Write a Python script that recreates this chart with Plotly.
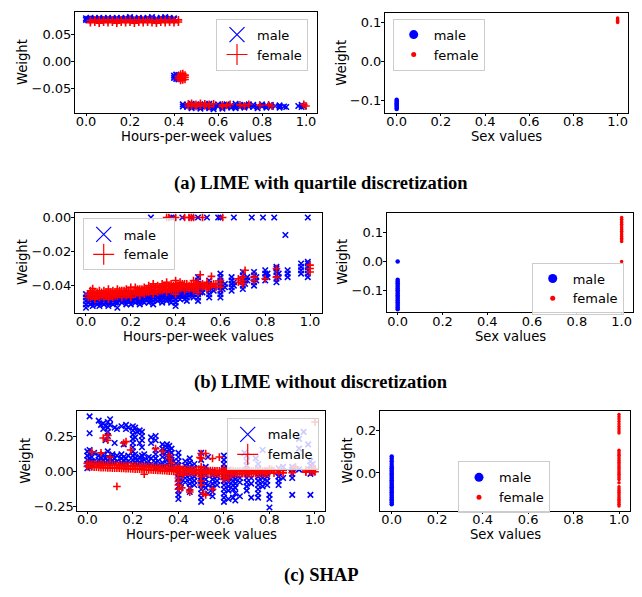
import plotly.graph_objects as go

# ---------------- tick labels ----------------
x_ticks = [0.0, 0.2, 0.4, 0.6, 0.8, 1.0]
lq_hours_yticks = [-0.05, 0.00, 0.05]
lq_sex_yticks = [-0.1, 0.0, 0.1]
nd_hours_yticks = [-0.04, -0.02, 0.00]
nd_sex_yticks = [-0.1, 0.0, 0.1]
shap_hours_yticks = [-0.25, 0.00, 0.25]
shap_sex_yticks = [0.0, 0.2]

series_names = ["male", "female"]
captions = ["(a) LIME with quartile discretization", "(b) LIME without discretization", "(c) SHAP"]

# ---------------- data: [feature value, [weights read at that value]] ----------------
# (a) LIME with quartile discretization, Hours-per-week
lq_hours_male = [
    [0.00, [0.080, 0.077]], [0.01, [0.079, 0.076]], [0.02, [0.081, 0.078]],
    [0.04, [0.080, 0.077]], [0.06, [0.081, 0.078]], [0.08, [0.080, 0.077]],
    [0.10, [0.081, 0.078]], [0.12, [0.080, 0.077]], [0.14, [0.081, 0.079]],
    [0.16, [0.080, 0.077]], [0.18, [0.081, 0.078]], [0.20, [0.082, 0.079]],
    [0.22, [0.080, 0.077]], [0.24, [0.081, 0.078]], [0.26, [0.080, 0.077]],
    [0.28, [0.081, 0.079]], [0.30, [0.082, 0.078]], [0.32, [0.080, 0.077]],
    [0.34, [0.081, 0.078]], [0.36, [0.082, 0.079]], [0.38, [0.081, 0.077]],
    [0.40, [0.080, 0.078]],
    [0.40, [-0.026, -0.030]], [0.41, [-0.024, -0.028, -0.032]], [0.42, [-0.025, -0.029, -0.033]],
    [0.44, [-0.079, -0.083]], [0.46, [-0.080, -0.084]], [0.48, [-0.078, -0.082, -0.086]],
    [0.50, [-0.080, -0.084]], [0.52, [-0.079, -0.083, -0.087]], [0.54, [-0.080, -0.084]],
    [0.56, [-0.078, -0.082, -0.086]], [0.58, [-0.081, -0.085, -0.088]], [0.60, [-0.079, -0.083]],
    [0.62, [-0.080, -0.084, -0.087]], [0.64, [-0.079, -0.083]], [0.66, [-0.081, -0.085]],
    [0.68, [-0.078, -0.082, -0.086]], [0.70, [-0.080, -0.084]], [0.72, [-0.081, -0.085]],
    [0.74, [-0.079, -0.083]], [0.76, [-0.080, -0.084]], [0.78, [-0.082, -0.086]],
    [0.80, [-0.079, -0.083]], [0.82, [-0.081, -0.085]], [0.84, [-0.080, -0.084]],
    [0.86, [-0.082]], [0.88, [-0.081, -0.085]], [0.90, [-0.083]], [0.91, [-0.084]],
    [0.965, [-0.082]], [0.98, [-0.080, -0.084]], [0.99, [-0.083]],
]
lq_hours_female = [
    [0.02, [0.076, 0.072]], [0.04, [0.077, 0.073]], [0.06, [0.076, 0.071]],
    [0.08, [0.077, 0.073]], [0.10, [0.076, 0.072]], [0.12, [0.077, 0.073]],
    [0.14, [0.075, 0.071]], [0.16, [0.077, 0.073]], [0.18, [0.076, 0.072]],
    [0.20, [0.077, 0.073]], [0.22, [0.076, 0.071]], [0.24, [0.077, 0.073]],
    [0.26, [0.076, 0.072]], [0.28, [0.077, 0.073]], [0.30, [0.076, 0.072]],
    [0.32, [0.075, 0.071]], [0.34, [0.077, 0.073]], [0.36, [0.076, 0.072]],
    [0.38, [0.077, 0.073]], [0.40, [0.076, 0.072]], [0.42, [0.077, 0.073]],
    [0.42, [-0.027, -0.031]], [0.43, [-0.023, -0.027, -0.031, -0.035]],
    [0.44, [-0.022, -0.026, -0.030, -0.034]], [0.45, [-0.025, -0.029, -0.033]],
    [0.465, [-0.078, -0.082]], [0.48, [-0.077, -0.081]], [0.50, [-0.079, -0.083]],
    [0.52, [-0.077, -0.081]], [0.54, [-0.078, -0.082]], [0.56, [-0.079, -0.083]],
    [0.58, [-0.078]], [0.62, [-0.080, -0.083]], [0.64, [-0.081]], [0.655, [-0.079]],
    [0.70, [-0.080]], [0.72, [-0.082]], [0.74, [-0.079]], [0.79, [-0.081]],
    [0.83, [-0.080]], [0.845, [-0.082]], [0.99, [-0.079]], [1.00, [-0.082]],
]
# (a) LIME with quartile discretization, Sex
lq_sex_male = [
    [0.0, [-0.098, -0.101, -0.104, -0.107, -0.110, -0.113, -0.116, -0.119, -0.122]],
]
lq_sex_female = [
    [1.0, [0.100, 0.103, 0.106, 0.109, 0.112]],
]

# (b) LIME without discretization, Hours-per-week
nd_hours_male = [
    [0.00, [-0.053, -0.051, -0.049, -0.047, -0.045]], [0.01, [-0.050, -0.048, -0.046]],
    [0.02, [-0.051, -0.049, -0.047, -0.045]], [0.03, [-0.052, -0.050, -0.048]],
    [0.04, [-0.050, -0.048, -0.046]], [0.05, [-0.051, -0.049, -0.047]],
    [0.06, [-0.052, -0.050, -0.048, -0.046]], [0.07, [-0.050, -0.048, -0.046]],
    [0.08, [-0.051, -0.049, -0.047]], [0.09, [-0.050, -0.048, -0.046]],
    [0.10, [-0.052, -0.050, -0.048, -0.046]], [0.11, [-0.050, -0.048, -0.046]],
    [0.12, [-0.051, -0.049, -0.047]], [0.13, [-0.050, -0.048, -0.046]],
    [0.14, [-0.053, -0.050, -0.048, -0.046]], [0.15, [-0.049, -0.047, -0.045]],
    [0.16, [-0.050, -0.048, -0.046]], [0.17, [-0.049, -0.047, -0.045]],
    [0.18, [-0.051, -0.049, -0.047]], [0.19, [-0.049, -0.047, -0.045]],
    [0.20, [-0.051, -0.049, -0.047, -0.045]], [0.21, [-0.049, -0.047, -0.045]],
    [0.22, [-0.050, -0.048, -0.046]], [0.23, [-0.049, -0.047, -0.045]],
    [0.24, [-0.051, -0.049, -0.047, -0.045]], [0.25, [-0.048, -0.046, -0.044]],
    [0.26, [-0.050, -0.048, -0.046]], [0.27, [-0.048, -0.046, -0.044]],
    [0.28, [-0.050, -0.048, -0.046]], [0.29, [-0.048, -0.046, -0.044]],
    [0.30, [-0.051, -0.049, -0.047, -0.045, -0.043]], [0.31, [-0.048, -0.046, -0.044]],
    [0.32, [-0.049, -0.047, -0.045]], [0.33, [-0.048, -0.046, -0.044]],
    [0.34, [-0.050, -0.048, -0.046, -0.044]], [0.35, [-0.047, -0.045, -0.043]],
    [0.36, [-0.049, -0.047, -0.045]], [0.37, [-0.048, -0.046, -0.044]],
    [0.38, [-0.050, -0.048, -0.046, -0.044]], [0.39, [-0.047, -0.045, -0.043]],
    [0.40, [-0.052, -0.050, -0.048, -0.046, -0.044, -0.042, -0.040]],
    [0.41, [-0.047, -0.045, -0.043]], [0.42, [-0.048, -0.046, -0.044]],
    [0.43, [-0.046, -0.044, -0.042]], [0.44, [-0.048, -0.046, -0.044, -0.042]],
    [0.45, [-0.049, -0.047, -0.045, -0.043, -0.041]], [0.46, [-0.046, -0.044, -0.042]],
    [0.47, [-0.045, -0.043]], [0.48, [-0.047, -0.045, -0.043, -0.041]],
    [0.50, [-0.049, -0.047, -0.045, -0.043, -0.041, -0.039, -0.037, -0.035]],
    [0.51, [-0.044, -0.042]], [0.52, [-0.044, -0.042, -0.040]],
    [0.55, [-0.047, -0.045, -0.043, -0.041, -0.039, -0.037]], [0.56, [-0.042, -0.040]],
    [0.57, [-0.043, -0.041]],
    [0.60, [-0.047, -0.045, -0.043, -0.041, -0.039, -0.037, -0.035, -0.033]],
    [0.61, [-0.042, -0.040]], [0.62, [-0.041, -0.039]],
    [0.65, [-0.043, -0.041, -0.039, -0.037, -0.035]], [0.66, [-0.040, -0.038]],
    [0.70, [-0.042, -0.040, -0.038, -0.036, -0.034, -0.032]], [0.71, [-0.039, -0.037]],
    [0.72, [-0.037, -0.035]],
    [0.75, [-0.040, -0.038, -0.036, -0.034, -0.032]], [0.76, [-0.037, -0.035]],
    [0.80, [-0.037, -0.035, -0.033, -0.031]], [0.81, [-0.035, -0.033]],
    [0.85, [-0.038, -0.036, -0.034, -0.032, -0.030, -0.029]], [0.86, [-0.035, -0.033]],
    [0.90, [-0.035, -0.033, -0.031]], [0.96, [-0.033, -0.031, -0.029, -0.027]],
    [0.99, [-0.035, -0.033, -0.031, -0.029, -0.027, -0.026]],
    [0.89, [-0.0103]],
    [0.29, [0.0]], [0.38, [0.0]], [0.39, [0.0]], [0.43, [0.0]], [0.47, [0.0]], [0.50, [0.0]],
    [0.54, [0.0]], [0.59, [0.0]], [0.60, [0.0]], [0.66, [0.0]], [0.74, [0.0]], [0.79, [0.0]],
    [0.84, [0.0]], [0.99, [0.0]],
]
nd_hours_female = [
    [0.01, [-0.047, -0.045]], [0.02, [-0.047, -0.045, -0.043]], [0.03, [-0.046, -0.044, -0.0418]],
    [0.04, [-0.048, -0.046, -0.044]], [0.05, [-0.046, -0.044]], [0.06, [-0.047, -0.045, -0.043]],
    [0.07, [-0.046, -0.044]], [0.08, [-0.047, -0.045, -0.043]], [0.09, [-0.046, -0.044]],
    [0.10, [-0.048, -0.046, -0.044, -0.042]], [0.11, [-0.046, -0.044]],
    [0.12, [-0.047, -0.045, -0.043]], [0.13, [-0.046, -0.044]], [0.14, [-0.046, -0.044, -0.042]],
    [0.15, [-0.045, -0.043]], [0.16, [-0.047, -0.045, -0.043]], [0.17, [-0.045, -0.043]],
    [0.18, [-0.046, -0.044, -0.042]], [0.19, [-0.045, -0.043]],
    [0.20, [-0.047, -0.045, -0.043, -0.041]], [0.21, [-0.045, -0.043]],
    [0.22, [-0.045, -0.043, -0.041]], [0.23, [-0.044, -0.042]], [0.24, [-0.046, -0.044, -0.042]],
    [0.25, [-0.044, -0.042]], [0.26, [-0.045, -0.043, -0.041]], [0.27, [-0.044, -0.042]],
    [0.28, [-0.044, -0.042, -0.040]], [0.29, [-0.043, -0.041]],
    [0.30, [-0.045, -0.043, -0.041, -0.039]], [0.31, [-0.043, -0.041]],
    [0.32, [-0.044, -0.042, -0.040]], [0.33, [-0.043, -0.041]], [0.34, [-0.043, -0.041, -0.039]],
    [0.35, [-0.042, -0.040]], [0.36, [-0.044, -0.042, -0.040, -0.038]], [0.37, [-0.042, -0.040]],
    [0.38, [-0.043, -0.041, -0.039]], [0.39, [-0.042, -0.040]],
    [0.40, [-0.045, -0.043, -0.041, -0.039, -0.037]], [0.41, [-0.042, -0.040]],
    [0.42, [-0.042, -0.040, -0.038]], [0.43, [-0.041, -0.039]], [0.44, [-0.043, -0.041, -0.039]],
    [0.45, [-0.041, -0.039]], [0.46, [-0.042, -0.040]], [0.47, [-0.041, -0.039]],
    [0.48, [-0.043, -0.041, -0.039, -0.037]], [0.49, [-0.041, -0.039]],
    [0.50, [-0.044, -0.042, -0.040, -0.038]], [0.51, [-0.0336]], [0.52, [-0.041, -0.039]],
    [0.53, [-0.040]], [0.54, [-0.042, -0.040, -0.038]], [0.55, [-0.041]],
    [0.56, [-0.040, -0.0346]], [0.57, [-0.039]], [0.58, [-0.041, -0.039]],
    [0.60, [-0.041, -0.039, -0.037]], [0.68, [-0.038, -0.036]],
    [0.70, [-0.039, -0.037, -0.035]], [0.71, [-0.031]], [0.75, [-0.037, -0.035]],
    [0.80, [-0.036]], [0.85, [-0.035, -0.030]], [1.00, [-0.032, -0.030, -0.028]],
    [0.36, [0.0]], [0.37, [0.0]], [0.40, [0.0]], [0.44, [0.0]], [0.46, [0.0]], [0.47, [0.0]],
    [0.48, [0.0]], [0.52, [0.0]], [0.61, [0.0]],
]
# (b) LIME without discretization, Sex
nd_sex_male = [
    [0.0, [-0.166, -0.160, -0.154, -0.148, -0.142, -0.136, -0.130, -0.124, -0.118, -0.112,
           -0.106, -0.100, -0.094, -0.088, -0.082, -0.076, -0.070, -0.064, 0.000]],
]
nd_sex_female = [
    [1.0, [0.069, 0.075, 0.081, 0.087, 0.093, 0.099, 0.105, 0.111, 0.117, 0.123, 0.129,
           0.135, 0.141, 0.147, 0.153, 0.000]],
]

# (c) SHAP, Hours-per-week
shap_hours_male = [
    [0.00, [0.02, 0.05, 0.08, 0.11, 0.14]], [0.01, [0.03, 0.06, 0.09, 0.12, 0.15, 0.27, 0.39]],
    [0.02, [0.04, 0.07, 0.10]], [0.03, [0.04, 0.07, 0.13]], [0.05, [0.05, 0.08, 0.11, 0.36]],
    [0.06, [0.06, 0.09, 0.33]], [0.07, [0.05, 0.08, 0.12, 0.30, 0.34]],
    [0.08, [0.06, 0.09, 0.22, 0.32]], [0.09, [0.07, 0.10, 0.14, 0.25, 0.28, 0.31, 0.35]],
    [0.10, [0.06, 0.09, 0.33, 0.37]], [0.11, [0.07, 0.10, 0.12]],
    [0.12, [0.06, 0.09, 0.20, 0.31]], [0.13, [0.07, 0.11, 0.30]],
    [0.15, [0.06, 0.09, 0.12, 0.32]], [0.16, [0.07, 0.10, 0.19]],
    [0.17, [0.06, 0.09, 0.30, 0.33]], [0.18, [0.07, 0.11, 0.31]],
    [0.20, [0.05, 0.08, 0.11, 0.14, 0.17, 0.20, 0.23, 0.26, 0.29, 0.32]],
    [0.21, [0.06, 0.09, 0.12, 0.24, 0.31]], [0.22, [0.05, 0.08, 0.28]],
    [0.23, [0.06, 0.10, 0.20, 0.29]], [0.24, [0.07, 0.11, 0.17, 0.22, 0.25, 0.28]],
    [0.25, [0.05, 0.08, 0.12]], [0.27, [0.04, 0.07, 0.10]], [0.28, [0.05, 0.09, 0.20, 0.24]],
    [0.30, [0.03, 0.06, 0.09, 0.12, 0.15, 0.22, 0.25]], [0.31, [0.04, 0.07]],
    [0.33, [0.03, 0.06, 0.10, 0.13, 0.16, 0.19]], [0.35, [0.02, 0.05, 0.08, 0.11, 0.14, 0.17, 0.19]],
    [0.36, [0.03, 0.06, 0.09, 0.12, 0.15, 0.18]], [0.37, [0.02, 0.05, 0.08, 0.10, 0.13, 0.16]],
    [0.38, [0.01, 0.04, 0.07]],
    [0.40, [-0.20, -0.17, -0.14, -0.11, -0.08, -0.05, -0.02, 0.01, 0.04, 0.07, 0.10, 0.13]],
    [0.41, [-0.12, -0.09, -0.06, -0.03]], [0.43, [-0.08, -0.05, -0.02, 0.01, 0.04, 0.07]],
    [0.45, [-0.15, -0.12, -0.09, -0.06, -0.03, 0.00, 0.03, 0.06, 0.09]],
    [0.47, [-0.10, -0.07, -0.04, -0.01, 0.02, 0.05]],
    [0.50, [-0.22, -0.19, -0.16, -0.13, -0.10, -0.07, -0.04, -0.01, 0.02, 0.08, 0.13]],
    [0.52, [-0.12, -0.09, -0.06, -0.03, 0.00, 0.03]], [0.53, [-0.16, -0.10, 0.10]],
    [0.55, [-0.18, -0.15, -0.12, -0.09, -0.06, -0.03, 0.00]], [0.57, [-0.10, -0.07, -0.04, -0.01]],
    [0.60, [-0.22, -0.19, -0.16, -0.13, -0.10, -0.07, -0.04, -0.01, 0.02, 0.05, 0.08, 0.11]],
    [0.62, [-0.20, -0.14, -0.11, -0.08, -0.05, -0.02, 0.01]],
    [0.64, [-0.19, -0.13, -0.10, -0.07, -0.04, -0.01]],
    [0.65, [-0.21, -0.16, -0.12, -0.09, -0.06, -0.03, 0.00]], [0.67, [-0.18, -0.08, -0.05]],
    [0.69, [0.13]],
    [0.70, [-0.14, -0.11, -0.08, -0.05, -0.02, 0.01, 0.04, 0.07, 0.11]], [0.72, [-0.19, -0.09, -0.05]],
    [0.74, [0.09]],
    [0.75, [-0.19, -0.16, -0.13, -0.10, -0.07, -0.04, -0.01, 0.02, 0.05]],
    [0.77, [-0.11, -0.08, -0.05, -0.02, 0.00, 0.15]], [0.79, [-0.10, -0.07, -0.04, -0.01]],
    [0.80, [-0.26, -0.20, -0.17]], [0.84, [-0.10, -0.07, -0.04, -0.01, 0.02]],
    [0.86, [-0.05, 0.03]], [0.90, [-0.17, -0.05, -0.02, 0.01, 0.03]],
    [0.93, [0.01, 0.16, 0.23]], [0.95, [0.28]], [0.97, [0.19]],
    [0.98, [-0.17, -0.02, 0.01, 0.04, 0.07]], [0.99, [-0.01, 0.02, 0.05]],
]
shap_hours_female = [
    [0.00, [0.055, 0.032]], [0.01, [0.053, 0.031]], [0.02, [0.050, 0.029, 0.137]],
    [0.03, [0.049, 0.028]], [0.04, [0.048, 0.027]], [0.05, [0.047, 0.026]],
    [0.06, [0.046, 0.025, 0.13]], [0.07, [0.046, 0.024, 0.236]], [0.08, [0.045, 0.024]],
    [0.09, [0.044, 0.023, 0.255, 0.22]], [0.10, [0.044, 0.022, 0.10]], [0.11, [0.043, 0.021]],
    [0.12, [0.042, 0.021]], [0.13, [0.041, 0.020, -0.11]], [0.14, [0.040, 0.020]],
    [0.15, [0.040, 0.019]], [0.16, [0.039, 0.018, 0.20]], [0.17, [0.038, 0.017, 0.21]],
    [0.18, [0.038, 0.017]], [0.19, [0.037, 0.016, 0.15]], [0.20, [0.036, 0.015]],
    [0.21, [0.035, 0.014]], [0.22, [0.034, 0.014]], [0.23, [0.033, 0.013]],
    [0.24, [0.033, 0.012]], [0.25, [0.032, 0.011, -0.023]], [0.26, [0.031, 0.010]],
    [0.27, [0.030, 0.009]], [0.28, [0.029, 0.008]], [0.29, [0.028, 0.007]],
    [0.30, [0.027, 0.006, 0.16]], [0.31, [0.026, 0.005]], [0.32, [0.025, 0.004]],
    [0.33, [0.024, 0.003, 0.14]], [0.34, [0.023, 0.002]], [0.35, [0.022, 0.001]],
    [0.36, [0.021, 0.000, 0.11, 0.09]], [0.37, [0.020, -0.001, 0.06]], [0.38, [0.019, -0.002]],
    [0.39, [0.018, -0.003]],
    [0.40, [0.030, 0.015, -0.004, -0.025, -0.050, -0.075, -0.100, -0.130]],
    [0.41, [0.014, -0.005]], [0.415, [-0.12]], [0.42, [0.013, -0.006, -0.030]],
    [0.43, [0.012, -0.007]], [0.44, [0.011, -0.008]], [0.45, [0.010, -0.009, -0.135, -0.15]],
    [0.46, [0.009, -0.010]], [0.47, [0.008, -0.011]], [0.48, [0.007, -0.012]],
    [0.49, [0.006, -0.013]], [0.495, [0.097]],
    [0.50, [0.030, 0.005, -0.014, -0.040, -0.070, -0.100, 0.125, 0.09]],
    [0.51, [0.005, -0.015, -0.16]], [0.52, [0.004, -0.015, 0.125, -0.17]],
    [0.53, [0.004, -0.016]], [0.54, [0.003, -0.016]], [0.55, [0.003, -0.017, 0.09, -0.13]],
    [0.56, [0.002, -0.017]], [0.57, [0.002, -0.018]], [0.58, [0.001, -0.018, 0.10]],
    [0.59, [0.001, -0.018]], [0.60, [0.015, 0.000, -0.018, -0.040, -0.060]],
    [0.61, [0.000, -0.018]], [0.62, [0.000, -0.018, -0.05]], [0.63, [-0.001, -0.019]],
    [0.64, [-0.001, -0.019]], [0.65, [-0.001, -0.019]], [0.66, [-0.001, -0.019]],
    [0.67, [0.000, -0.018]], [0.68, [0.000, -0.018]], [0.69, [0.000, -0.018]],
    [0.70, [0.015, 0.000, -0.018]], [0.71, [0.000, -0.018]], [0.72, [0.000, -0.018]],
    [0.73, [0.001, -0.017]], [0.74, [0.001, -0.017]], [0.75, [0.001, -0.017]],
    [0.76, [0.001, -0.017]], [0.77, [0.002, -0.016]], [0.78, [0.002, -0.016]],
    [0.79, [0.002, -0.016]], [0.80, [0.015, 0.002, -0.016]], [0.81, [0.01]],
    [0.82, [0.003, -0.015]], [0.84, [0.004, -0.014]], [0.86, [0.004, -0.013]],
    [0.90, [0.006, -0.012]], [0.915, [0.03]], [0.96, [0.010, -0.008, 0.0]],
    [0.98, [0.012, -0.006]], [0.99, [0.012, -0.005]], [1.00, [0.013, -0.005, 0.35]],
]
# (c) SHAP, Sex
shap_sex_male = [
    [0.0, [-0.146, -0.138, -0.130, -0.122, -0.114, -0.106, -0.098, -0.090, -0.082, -0.074,
           -0.066, -0.058, -0.050, -0.042, -0.034, -0.026, -0.018, -0.010, -0.002, 0.006,
           0.014, 0.022, 0.030, 0.042, 0.055, 0.066, 0.077]],
]
shap_sex_female = [
    [1.0, [-0.154, -0.146, -0.138, -0.130, -0.122, -0.114, -0.106, -0.098, -0.090, -0.082,
           -0.074, -0.064, -0.046, -0.030, -0.022, -0.014, -0.006, 0.002, 0.010, 0.018,
           0.026, 0.034, 0.042, 0.050, 0.058, 0.066, 0.074, 0.082, 0.090, 0.098, 0.106,
           0.186, 0.196, 0.206, 0.216, 0.228, 0.240, 0.252, 0.262, 0.272]],
]

# ---------------- layout helpers ----------------
VIEW_W, VIEW_H = 642, 597
OFF = 8                      # the page body keeps an 8 px margin round the figure
W, H = VIEW_W - OFF, VIEW_H - 2 * OFF
TICK_FONT = dict(family="DejaVu Sans", size=13, color="black")
TITLE_FONT = dict(family="DejaVu Sans", size=13.2, color="black")


def flatten(cols):
    xs, ys = [], []
    for x, yl in cols:
        for y in yl:
            xs.append(x)
            ys.append(y)
    return xs, ys


def px_x(p):
    return (p - OFF) / W


def px_y(p):
    return 1 - (p - OFF) / H


panels = [
    dict(m=lq_hours_male, f=lq_hours_female, kind="hours", bx=(75, 317), by=(10, 112),
         xr=(-0.05, 1.05), yr=(-0.0952, 0.0916), yt=lq_hours_yticks, yf=".2f",
         leg=(216, 16.7), wx=22.5, xt="Hours-per-week values", xty=135.5, xso=-6),
    dict(m=lq_sex_male, f=lq_sex_female, kind="sex", bx=(385, 628), by=(11, 112),
         xr=(-0.053, 1.047), yr=(-0.1323, 0.1247), yt=lq_sex_yticks, yf=".1f",
         leg=(392.7, 16.7), wx=340.8, xt="Sex values", xty=135.5, xso=-6),
    dict(m=nd_hours_male, f=nd_hours_female, kind="hours", bx=(75, 321.7), by=(212.3, 313.3),
         xr=(-0.049, 1.052), yr=(-0.0559, 0.0029), yt=nd_hours_yticks, yf=".2f",
         leg=(82.7, 218.3), wx=22.5, xt="Hours-per-week values", xty=337, xso=-5),
    dict(m=nd_sex_male, f=nd_sex_female, kind="sex", bx=(386.7, 633.3), by=(212.3, 312.7),
         xr=(-0.049, 1.052), yr=(-0.176, 0.170), yt=nd_sex_yticks, yf=".1f",
         leg=(531.7, 262.7), wx=342.5, xt="Sex values", xty=337, xso=-5),
    dict(m=shap_hours_male, f=shap_hours_female, kind="hours", bx=(77.3, 325), by=(412.3, 513.3),
         xr=(-0.044, 1.044), yr=(-0.285, 0.43), yt=shap_hours_yticks, yf=".2f",
         leg=(226.7, 420), wx=25.8, xt="Hours-per-week values", xty=537, xso=-6),
    dict(m=shap_sex_male, f=shap_sex_female, kind="sex", bx=(380, 630), by=(412.3, 513.3),
         xr=(-0.0515, 1.0484), yr=(-0.177, 0.2896), yt=shap_sex_yticks, yf=".1f",
         leg=(458, 463.3), wx=347.5, xt="Sex values", xty=537, xso=-6),
]

fig = go.Figure()
annotations = []
layout_extra = {}

for i, p in enumerate(panels, start=1):
    sfx = "" if i == 1 else str(i)
    xa, ya = "x" + sfx, "y" + sfx
    leg_name = "legend" + sfx
    mx, my = flatten(p["m"])
    fx, fy = flatten(p["f"])
    if p["kind"] == "hours":
        m_marker = dict(symbol="x-thin", size=5.5, color="#0000ff",
                        line=dict(color="#0000ff", width=1.6))
        f_marker = dict(symbol="cross-thin", size=5.5, color="#ff0000",
                        line=dict(color="#ff0000", width=1.6))
        m_leg = dict(symbol="x-thin", size=15, color="#0000ff",
                     line=dict(color="#0000ff", width=1.2))
        f_leg = dict(symbol="cross-thin", size=15, color="#ff0000",
                     line=dict(color="#ff0000", width=1.2))
    else:
        m_marker = dict(symbol="circle", size=4.5, color="#0000ff", line=dict(width=0))
        f_marker = dict(symbol="circle", size=3.5, color="#ff0000", line=dict(width=0))
        m_leg = dict(symbol="circle", size=9, color="#0000ff", line=dict(width=0))
        f_leg = dict(symbol="circle", size=5, color="#ff0000", line=dict(width=0))

    fig.add_trace(go.Scatter(x=mx, y=my, mode="markers", marker=m_marker, xaxis=xa, yaxis=ya,
                             showlegend=False, hoverinfo="skip"))
    fig.add_trace(go.Scatter(x=fx, y=fy, mode="markers", marker=f_marker, xaxis=xa, yaxis=ya,
                             showlegend=False, hoverinfo="skip"))
    fig.add_trace(go.Scatter(x=[None], y=[None], mode="markers", marker=m_leg, xaxis=xa, yaxis=ya,
                             name=series_names[0], legend=leg_name, showlegend=True))
    fig.add_trace(go.Scatter(x=[None], y=[None], mode="markers", marker=f_leg, xaxis=xa, yaxis=ya,
                             name=series_names[1], legend=leg_name, showlegend=True))

    axis_common = dict(showline=True, mirror=True, linecolor="black", linewidth=1,
                       ticks="outside", tickwidth=1, tickcolor="black",
                       showgrid=False, zeroline=False, tickfont=TICK_FONT)
    layout_extra["xaxis" + sfx] = dict(
        domain=[px_x(p["bx"][0]), px_x(p["bx"][1])], range=list(p["xr"]), anchor=ya,
        tickvals=x_ticks, tickformat=".1f", ticklen=2, ticklabelstandoff=p["xso"], **axis_common)
    layout_extra["yaxis" + sfx] = dict(
        domain=[px_y(p["by"][1]), px_y(p["by"][0])], range=list(p["yr"]), anchor=xa,
        tickvals=p["yt"], tickformat=p["yf"], ticklen=3, ticklabelstandoff=-3, **axis_common)
    layout_extra[leg_name] = dict(
        x=px_x(p["leg"][0]), y=px_y(p["leg"][1]), xanchor="left", yanchor="top",
        bgcolor="rgba(255,255,255,0.8)", bordercolor="#cccccc", borderwidth=1,
        font=dict(family="DejaVu Sans", size=13, color="black"), itemsizing="trace")

    annotations.append(dict(text=p["xt"], x=px_x((p["bx"][0] + p["bx"][1]) / 2), y=px_y(p["xty"]),
                            xref="paper", yref="paper", showarrow=False, xanchor="center",
                            yanchor="middle", font=TITLE_FONT))
    annotations.append(dict(text="Weight", x=px_x(p["wx"]), y=px_y((p["by"][0] + p["by"][1]) / 2),
                            xref="paper", yref="paper", showarrow=False, textangle=-90,
                            xanchor="center", yanchor="middle", font=TITLE_FONT))

for cap, cy in zip(captions, [183, 384, 578]):
    annotations.append(dict(text=cap, x=px_x(VIEW_W / 2), y=px_y(cy), xref="paper", yref="paper",
                            showarrow=False, xanchor="center", yanchor="middle",
                            font=dict(family="Liberation Serif", size=18.5, color="black",
                                      weight="bold")))

fig.update_layout(width=W, height=H, margin=dict(l=0, r=0, t=0, b=0),
                  paper_bgcolor="white", plot_bgcolor="white",
                  annotations=annotations, **layout_extra)

fig.write_html("out.html")
